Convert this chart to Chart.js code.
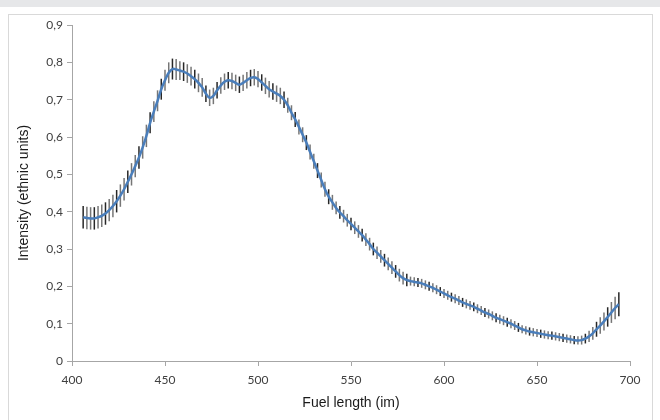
<!DOCTYPE html>
<html lang="en">
<head>
    <meta charset="UTF-8">
    <title>Intensity vs Fuel length</title>
    <script src="https://cdn.jsdelivr.net/npm/chart.js"></script>
    <style>
        html, body {
            margin: 0;
            padding: 0;
            width: 660px;
            height: 420px;
            overflow: hidden;
            background: #ffffff;
        }
        .top-band {
            position: absolute;
            left: 0; top: 0;
            width: 660px; height: 7px;
            background: #e6e7e9;
        }
        .frame {
            position: absolute;
            left: 8px; top: 14px;
            width: 643px; height: 420px;
            border: 1px solid #d9d9d9;
            border-bottom: none;
        }
        #chart {
            position: absolute;
            left: 0; top: 0;
        }
    </style>
</head>
<body>
    <div class="top-band"></div>
    <div class="frame"></div>
    <canvas id="chart" width="660" height="420"></canvas>

    <script>
        // Wavelength positions (x), every 2 units
        const fuelLength = [
            406, 408, 410, 412, 414, 416, 418, 420, 422, 424, 426, 428, 430, 432, 434, 436, 438, 440,
            442, 444, 446, 448, 450, 452, 454, 456, 458, 460, 462, 464, 466, 468, 470, 472, 474, 476,
            478, 480, 482, 484, 486, 488, 490, 492, 494, 496, 498, 500, 502, 504, 506, 508, 510, 512,
            514, 516, 518, 520, 522, 524, 526, 528, 530, 532, 534, 536, 538, 540, 542, 544, 546, 548,
            550, 552, 554, 556, 558, 560, 562, 564, 566, 568, 570, 572, 574, 576, 578, 580, 582, 584,
            586, 588, 590, 592, 594, 596, 598, 600, 602, 604, 606, 608, 610, 612, 614, 616, 618, 620,
            622, 624, 626, 628, 630, 632, 634, 636, 638, 640, 642, 644, 646, 648, 650, 652, 654, 656,
            658, 660, 662, 664, 666, 668, 670, 672, 674, 676, 678, 680, 682, 684, 686, 688, 690, 692,
            694
        ];

        // Intensity values
        const intensity = [
            0.385, 0.383, 0.382, 0.382, 0.385, 0.389, 0.395, 0.404, 0.415, 0.428, 0.443, 0.460, 0.480, 0.500, 0.522, 0.545, 0.572, 0.603,
            0.638, 0.668, 0.697, 0.728, 0.752, 0.772, 0.782, 0.781, 0.778, 0.775, 0.770, 0.763, 0.755, 0.745, 0.733, 0.716, 0.705, 0.710,
            0.725, 0.738, 0.748, 0.752, 0.750, 0.745, 0.740, 0.745, 0.752, 0.758, 0.760, 0.755, 0.746, 0.737, 0.728, 0.722, 0.716, 0.710,
            0.700, 0.685, 0.665, 0.647, 0.627, 0.606, 0.585, 0.560, 0.535, 0.510, 0.485, 0.460, 0.440, 0.425, 0.410, 0.398, 0.388, 0.377,
            0.367, 0.357, 0.347, 0.337, 0.325, 0.313, 0.300, 0.290, 0.280, 0.270, 0.260, 0.250, 0.240, 0.230, 0.222, 0.217, 0.214, 0.212,
            0.210, 0.208, 0.204, 0.200, 0.196, 0.191, 0.186, 0.181, 0.176, 0.171, 0.167, 0.162, 0.157, 0.153, 0.149, 0.145, 0.140, 0.135,
            0.130, 0.126, 0.121, 0.116, 0.112, 0.108, 0.104, 0.100, 0.095, 0.090, 0.085, 0.082, 0.079, 0.077, 0.075, 0.073, 0.071, 0.069,
            0.068, 0.066, 0.064, 0.062, 0.060, 0.058, 0.056, 0.055, 0.056, 0.060, 0.066, 0.074, 0.085, 0.095, 0.106, 0.118, 0.130, 0.142,
            0.152
        ];

        // Half-length of each error bar
        const intensityError = [
            0.030, 0.030, 0.030, 0.030, 0.030, 0.030, 0.030, 0.030, 0.030, 0.030, 0.030, 0.030, 0.030, 0.030, 0.030, 0.030, 0.030, 0.030,
            0.028, 0.028, 0.028, 0.028, 0.028, 0.028, 0.028, 0.028, 0.025, 0.025, 0.025, 0.025, 0.025, 0.025, 0.025, 0.022, 0.022, 0.022,
            0.022, 0.022, 0.022, 0.022, 0.022, 0.022, 0.022, 0.022, 0.022, 0.022, 0.022, 0.022, 0.022, 0.022, 0.022, 0.022, 0.022, 0.022,
            0.022, 0.020, 0.020, 0.020, 0.020, 0.020, 0.020, 0.020, 0.020, 0.020, 0.020, 0.020, 0.020, 0.020, 0.017, 0.017, 0.017, 0.017,
            0.017, 0.017, 0.017, 0.017, 0.017, 0.017, 0.017, 0.017, 0.017, 0.017, 0.017, 0.017, 0.017, 0.017, 0.017, 0.017, 0.012, 0.012,
            0.012, 0.012, 0.012, 0.012, 0.012, 0.012, 0.012, 0.012, 0.012, 0.012, 0.012, 0.012, 0.012, 0.012, 0.012, 0.012, 0.012, 0.012,
            0.012, 0.012, 0.012, 0.012, 0.012, 0.012, 0.012, 0.012, 0.012, 0.012, 0.011, 0.011, 0.011, 0.011, 0.011, 0.011, 0.011, 0.011,
            0.011, 0.011, 0.011, 0.011, 0.011, 0.011, 0.011, 0.011, 0.012, 0.013, 0.015, 0.017, 0.020, 0.022, 0.024, 0.026, 0.028, 0.030,
            0.032
        ];

        const xTicks = [400, 450, 500, 550, 600, 650, 700];
        const yTicks = [0, 0.1, 0.2, 0.3, 0.4, 0.5, 0.6, 0.7, 0.8, 0.9];

        const points = fuelLength.map((x, i) => ({ x: x, y: intensity[i] }));

        // Draws the vertical error bars behind the line
        const errorBars = {
            id: 'errorBars',
            beforeDatasetsDraw(chart) {
                const ctx = chart.ctx;
                const xs = chart.scales.x;
                const ys = chart.scales.y;
                ctx.save();
                ctx.lineWidth = 1.5;
                fuelLength.forEach((x, i) => {
                    const px = xs.getPixelForValue(x);
                    const top = ys.getPixelForValue(intensity[i] + intensityError[i]);
                    const bottom = ys.getPixelForValue(intensity[i] - intensityError[i]);
                    ctx.strokeStyle = i % 3 === 0 ? 'rgba(15,15,15,0.9)' : 'rgba(60,60,60,0.7)';
                    ctx.beginPath();
                    ctx.moveTo(px, top);
                    ctx.lineTo(px, bottom);
                    ctx.stroke();
                });
                ctx.restore();
            }
        };

        new Chart(document.getElementById('chart'), {
            type: 'line',
            data: {
                datasets: [{
                    label: 'Intensity',
                    data: points,
                    borderColor: '#4a7ebb',
                    borderWidth: 2.5,
                    pointRadius: 0,
                    tension: 0.4,
                    fill: false
                }]
            },
            options: {
                responsive: false,
                animation: false,
                layout: {
                    padding: { left: 0, right: 30, top: 25, bottom: 0 }
                },
                plugins: {
                    legend: { display: false },
                    tooltip: { enabled: false }
                },
                scales: {
                    x: {
                        type: 'linear',
                        min: 400,
                        max: 700,
                        afterFit(scale) { scale.height = 59; },
                        afterBuildTicks(scale) { scale.ticks = xTicks.map(v => ({ value: v })); },
                        border: { color: '#a6a6a6', width: 1 },
                        grid: {
                            drawOnChartArea: false,
                            color: '#a6a6a6',
                            tickLength: 5
                        },
                        ticks: {
                            padding: 7,
                            color: '#404040',
                            font: { family: 'Lato', size: 12 },
                            maxRotation: 0
                        },
                        title: {
                            display: true,
                            text: 'Fuel length (im)',
                            color: '#1a1a1a',
                            font: { family: 'Liberation Sans', size: 14 },
                            padding: { top: 0, bottom: 8 }
                        }
                    },
                    y: {
                        min: 0,
                        max: 0.9,
                        afterFit(scale) { scale.width = 72; },
                        afterBuildTicks(scale) { scale.ticks = yTicks.map(v => ({ value: v })); },
                        border: { color: '#a6a6a6', width: 1 },
                        grid: {
                            drawOnChartArea: false,
                            color: '#a6a6a6',
                            tickLength: 5
                        },
                        ticks: {
                            padding: 4,
                            color: '#404040',
                            font: { family: 'Lato', size: 12 },
                            callback: v => v === 0 ? '0' : v.toFixed(1).replace('.', ',')
                        },
                        title: {
                            display: true,
                            text: 'Intensity (ethnic units)',
                            color: '#1a1a1a',
                            font: { family: 'Liberation Sans', size: 14 },
                            padding: { top: 16, bottom: 0 }
                        }
                    }
                }
            },
            plugins: [errorBars]
        });
    </script>
</body>
</html>
